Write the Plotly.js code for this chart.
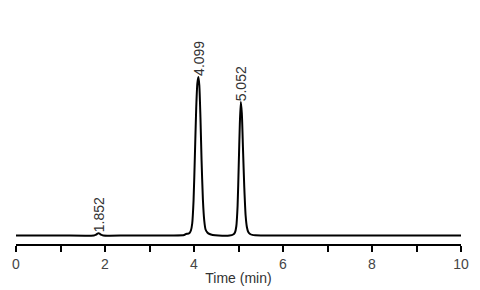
<!DOCTYPE html>
<html><head><meta charset="utf-8">
<script src="https://cdn.plot.ly/plotly-3.0.1.min.js"></script>
<style>html,body{margin:0;padding:0;background:#fff}#c{width:480px;height:290px}</style>
</head><body><div id="c"></div>
<script>
// Retention time (min) and detector signal (arbitrary units)
const time = [0, 1.0, 1.75, 1.80, 1.83, 1.852, 1.88, 1.91, 1.96, 2.5, 3.5, 3.78, 3.82, 3.86, 3.90, 3.93, 3.96, 3.99, 4.02, 4.05, 4.075, 4.099, 4.12, 4.145, 4.17, 4.20, 4.23, 4.26, 4.30, 4.35, 4.42, 4.55, 4.80, 4.88, 4.92, 4.95, 4.98, 5.005, 5.03, 5.052, 5.075, 5.10, 5.13, 5.16, 5.19, 5.22, 5.26, 5.31, 5.38, 5.50, 6.5, 8.0, 10.0];
const signal = [0, 0, 0, 0.8, 1.8, 2.2, 1.8, 0.8, 0, 0, 0, 0.5, 1.5, 1.8, 2.5, 5, 12, 35, 80, 128, 152, 158.5, 150, 118, 75, 36, 15, 6, 3, 1.5, 0.6, 0, 0, 1, 3, 9, 30, 70, 112, 133.5, 122, 88, 48, 20, 8, 3.5, 1.5, 0.6, 0.2, 0, 0, 0, 0];
const peakTimes = [1.852, 4.099, 5.052];
const peakHeights = [2.2, 158.5, 133.5];
const peakLabels = ['1.852', '4.099', '5.052'];
const tickVals = [0,1,2,3,4,5,6,7,8,9,10];
const tickText = ['0','','2','','4','','6','','8','','10'];

const trace = {x: time, y: signal, type: 'scatter', mode: 'lines',
  line: {color: '#000', width: 2, shape: 'spline', smoothing: 0.6}, hoverinfo: 'none'};

const annotations = peakTimes.map((t, i) => ({
  x: t, y: peakHeights[i], xref: 'x', yref: 'y', text: peakLabels[i],
  showarrow: false, textangle: -90, xanchor: 'center', yanchor: 'bottom',
  borderpad: 0, yshift: 0,
  font: {family: 'Liberation Sans, Arial, sans-serif', size: 14, color: '#333'}
}));

const layout = {
  width: 480, height: 290,
  margin: {l: 15.5, r: 18.5, t: 0, b: 46},
  paper_bgcolor: '#fff', plot_bgcolor: '#fff',
  showlegend: false,
  xaxis: {range: [0, 10], tickvals: tickVals, ticktext: tickText,
    showline: true, linecolor: '#000', linewidth: 2, ticks: 'outside',
    ticklen: 6, tickwidth: 2, tickcolor: '#000', showgrid: false, zeroline: false,
    tickfont: {family: 'Liberation Sans, Arial, sans-serif', size: 14, color: '#444'},
    title: {text: 'Time (min)', standoff: 2,
      font: {family: 'Liberation Sans, Arial, sans-serif', size: 14, color: '#333'}}},
  yaxis: {range: [-8.5, 235.5], visible: false, showgrid: false, zeroline: false},
  annotations: annotations
};
Plotly.newPlot('c', [trace], layout, {staticPlot: true, displayModeBar: false});
</script></body></html>
